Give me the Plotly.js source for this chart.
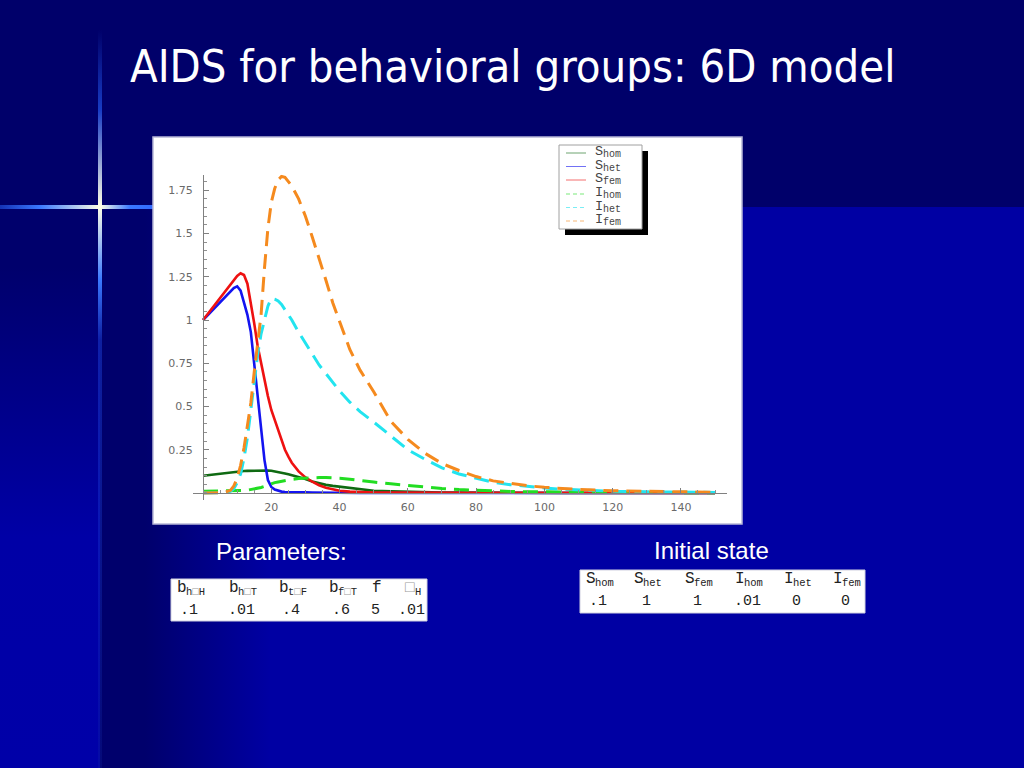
<!DOCTYPE html>
<html>
<head>
<meta charset="utf-8">
<script src="https://cdn.plot.ly/plotly-3.0.1.min.js"></script>
<style>
html,body{margin:0;padding:0;width:1024px;height:768px;overflow:hidden;background:#0000a3;}
#bg{position:absolute;left:0;top:0;width:1024px;height:768px;}
.blk{position:absolute;}
#plot{position:absolute;left:0;top:0;width:1024px;height:768px;}
</style>
</head>
<body>
<div id="bg">
  <div class="blk" style="left:100px;top:207px;width:924px;height:561px;background:linear-gradient(to right,#00006c 0px,#00006c 45px,#0000a3 170px,#0000a3 100%);"></div>
  <div class="blk" style="left:0;top:207px;width:100px;height:561px;background:linear-gradient(to bottom,#00006c 0px,#00006c 60px,#0000a6 330px,#0000a8 100%);"></div>
  <div class="blk" style="left:0;top:0;width:1024px;height:207px;background:#00006a;"></div>
  <div class="blk" style="left:0;top:205px;width:160px;height:4px;background:linear-gradient(to right,rgba(40,100,255,0.5) 0px,#3a78ff 40px,#ffffe6 100px,#3a78ff 130px,#2f66ff 160px);"></div>
  <div class="blk" style="left:98px;top:0;width:4px;height:768px;background:linear-gradient(to bottom,rgba(40,90,255,0) 30px,rgba(40,100,255,0.6) 110px,#ffffe6 207px,#3a78ff 280px,rgba(40,90,255,0.35) 340px,rgba(20,40,160,0.25) 100%);"></div>
</div>
<div id="plot"></div>
<script>
// ---- data ----
var t      = [0,2,4,6,8,9,10,11,12,13,14,15,16,17,18,19,20,21,22,23,24,25,26,28,30,32,34,36,38,40,43,46,50,55,60,65,70,75,80,85,90,95,100,105,110,120,130,140,150];
var S_hom  = [0.1,0.105,0.11,0.115,0.12,0.122,0.124,0.126,0.127,0.128,0.129,0.13,0.13,0.13,0.13,0.13,0.129,0.126,0.122,0.118,0.113,0.108,0.103,0.093,0.081,0.066,0.055,0.047,0.041,0.036,0.028,0.02,0.013,0.009,0.006,0.004,0.003,0.002,0.001,0,0,0,0,0,0,0,0,0,0];
var S_het  = [1.0,1.04,1.085,1.125,1.165,1.185,1.195,1.17,1.10,1.03,0.93,0.74,0.53,0.36,0.19,0.075,0.035,0.02,0.012,0.008,0.006,0.005,0.005,0.005,0.004,0.003,0.002,0.001,0.001,0,0,0,0,0,0,0,0,0,0,0,0,0,0,0,0,0,0,0,0];
var S_fem  = [1.0,1.05,1.10,1.15,1.20,1.23,1.255,1.27,1.26,1.21,1.10,0.98,0.85,0.75,0.65,0.56,0.48,0.42,0.36,0.30,0.25,0.21,0.175,0.125,0.09,0.065,0.045,0.03,0.02,0.013,0.008,0.005,0.003,0.002,0.001,0.001,0.001,0.001,0.001,0.001,0.001,0.001,0.001,0.001,0.001,0.001,0.001,0,0];
var I_hom  = [0.01,0.01,0.01,0.01,0.011,0.011,0.012,0.013,0.014,0.016,0.019,0.022,0.027,0.032,0.038,0.046,0.055,0.06,0.064,0.068,0.072,0.076,0.079,0.083,0.086,0.088,0.089,0.089,0.088,0.085,0.08,0.072,0.063,0.053,0.043,0.034,0.026,0.02,0.015,0.012,0.009,0.007,0.006,0.005,0.004,0.003,0.002,0.002,0.001];
var I_het  = [0,0,0,0.002,0.01,0.025,0.06,0.11,0.2,0.32,0.48,0.65,0.8,0.92,1.0,1.08,1.125,1.12,1.11,1.09,1.06,1.03,1.0,0.93,0.865,0.8,0.74,0.69,0.64,0.59,0.525,0.47,0.41,0.33,0.25,0.195,0.145,0.11,0.085,0.062,0.048,0.037,0.029,0.022,0.017,0.01,0.007,0.005,0.003];
var I_fem  = [0,0,0,0.002,0.015,0.04,0.085,0.16,0.26,0.4,0.52,0.7,0.88,1.03,1.3,1.53,1.68,1.76,1.81,1.83,1.825,1.8,1.775,1.7,1.6,1.48,1.36,1.23,1.1,0.99,0.83,0.71,0.585,0.415,0.31,0.23,0.17,0.13,0.095,0.07,0.055,0.042,0.033,0.025,0.02,0.013,0.009,0.006,0.004];

// series labels: main letter + subscript
var seriesMain = ["S","S","S","I","I","I"];
var seriesSub  = ["hom","het","fem","hom","het","fem"];
var xTickVals = [20,40,60,80,100,120,140];
var xTickText = ["20","40","60","80","100","120","140"];
var yTickVals = [0.25,0.5,0.75,1,1.25,1.5,1.75];
var yTickText = ["0.25","0.5","0.75","1","1.25","1.5","1.75"];

var titleText = "AIDS for behavioral groups: 6D model";
var paramLabel = "Parameters:";
var stateLabel = "Initial state";
var paramMain   = ["b","b","b","b","f","□"];
var paramSub    = ["h□H","h□T","t□F","f□T","","H"];
var paramValues = [".1",".01",".4",".6","5",".01"];
var stateMain   = ["S","S","S","I","I","I"];
var stateSub    = ["hom","het","fem","hom","het","fem"];
var stateValues = [".1","1","1",".01","0","0"];

// ---- styling ----
var seriesY = [S_hom,S_het,S_fem,I_hom,I_het,I_fem];
var colors  = ["#0f6a12","#1414f0","#ee1111","#22dd22","#22e4ef","#f58a1e"];
var dashes  = ["solid","solid","solid","15px,8px","15px,8px","15px,8px"];
var widths  = [2.6,2.6,2.6,3,3,3];

function fx(px){return px/1024;}
function fy(py){return 1-py/768;}
function tofu(s){return s.replace(/□/g,'<span style="color:#9a9a9a">□</span>');}

var traces = seriesY.map(function(y,i){
  return {x:t,y:y,type:'scatter',mode:'lines',name:seriesMain[i]+seriesSub[i],
    line:{color:colors[i],width:widths[i],dash:dashes[i]},showlegend:false,hoverinfo:'skip'};
});

var shapes = [];
var ann = [];
var MONO = 'Liberation Mono, Courier New, monospace';
function label(px,py,main,sub,mainSize,subSize,subDy,centered,color){
  var w = main.length*0.6*mainSize + sub.length*0.6*subSize;
  var left = centered ? px - w/2 : px;
  ann.push({xref:'paper',yref:'paper',x:fx(left),y:fy(py),xanchor:'left',yanchor:'middle',showarrow:false,
    text:tofu(main),font:{family:MONO,size:mainSize,color:color}});
  if (sub.length){
    ann.push({xref:'paper',yref:'paper',x:fx(left+main.length*0.6*mainSize),y:fy(py+subDy),xanchor:'left',yanchor:'middle',showarrow:false,
      text:tofu(sub),font:{family:MONO,size:subSize,color:color}});
  }
}
// chart white panel
shapes.push({type:'rect',xref:'paper',yref:'paper',x0:fx(153),x1:fx(742),y0:fy(524),y1:fy(137),
  fillcolor:'#ffffff',line:{color:'#b8b8d8',width:1.5},layer:'below'});
// legend shadow and box
shapes.push({type:'rect',xref:'paper',yref:'paper',x0:fx(565),x1:fx(648),y0:fy(235),y1:fy(151),
  fillcolor:'#000000',line:{width:0},layer:'above'});
shapes.push({type:'rect',xref:'paper',yref:'paper',x0:fx(559),x1:fx(642),y0:fy(229),y1:fy(145),
  fillcolor:'#ffffff',line:{color:'#a0a0a0',width:1},layer:'above'});
var rowY = [153,166.5,180,194,207.5,221];
for (var i=0;i<6;i++){
  shapes.push({type:'line',xref:'paper',yref:'paper',x0:fx(566),x1:fx(586),y0:fy(rowY[i]),y1:fy(rowY[i]),
    line:{color:colors[i],width:1,dash:i<3?'solid':'4px,3px'},opacity:0.6,layer:'above'});
  label(593,rowY[i]-1.5,seriesMain[i],seriesSub[i],13.5,10,3.5,false,'#444');
}
// tables
shapes.push({type:'rect',xref:'paper',yref:'paper',x0:fx(171),x1:fx(427),y0:fy(621),y1:fy(579),
  fillcolor:'#ffffff',line:{color:'#d0d0e0',width:1},layer:'above'});
shapes.push({type:'rect',xref:'paper',yref:'paper',x0:fx(580),x1:fx(865),y0:fy(613),y1:fy(570),
  fillcolor:'#ffffff',line:{color:'#d0d0e0',width:1},layer:'above'});
var pCols = [189,241,291,341,375,411];
var sCols = [598,646,697,747,796,845];
var valFont  = {family:MONO,size:15,color:'#222'};
for (var j=0;j<6;j++){
  label(pCols[j],588,paramMain[j],paramSub[j],16,10.5,4,true,'#222');
  ann.push({xref:'paper',yref:'paper',x:fx(pCols[j]),y:fy(610),xanchor:'center',yanchor:'middle',showarrow:false,text:paramValues[j],font:valFont});
  label(sCols[j],579,stateMain[j],stateSub[j],16,10.5,4,true,'#222');
  ann.push({xref:'paper',yref:'paper',x:fx(sCols[j]),y:fy(601),xanchor:'center',yanchor:'middle',showarrow:false,text:stateValues[j],font:valFont});
}
// labels
ann.push({xref:'paper',yref:'paper',x:fx(281),y:fy(551),xanchor:'center',yanchor:'middle',showarrow:false,text:paramLabel,
  font:{family:'Liberation Sans, Arial, sans-serif',size:24,color:'#ffffff'}});
ann.push({xref:'paper',yref:'paper',x:fx(711),y:fy(550),xanchor:'center',yanchor:'middle',showarrow:false,text:stateLabel,
  font:{family:'Liberation Sans, Arial, sans-serif',size:24,color:'#ffffff'}});

var layout = {
  width:1024,height:768,
  margin:{l:0,r:0,t:0,b:0},
  paper_bgcolor:'rgba(0,0,0,0)',plot_bgcolor:'rgba(0,0,0,0)',
  showlegend:false,
  title:{text:titleText,x:fx(130),xanchor:'left',y:fy(66),yanchor:'middle',xref:'paper',yref:'paper',
    font:{family:'DejaVu Sans Condensed, DejaVu Sans, sans-serif',size:45,color:'#ffffff'}},
  xaxis:{range:[-3,153.5],domain:[fx(192.8),fx(727)],anchor:'free',position:fy(493),
    showgrid:false,zeroline:false,showline:true,linecolor:'#808080',linewidth:1,
    tickmode:'array',tickvals:xTickVals,ticktext:xTickText,ticks:'inside',ticklen:5,tickcolor:'#808080',tickwidth:1,
    minor:{tickmode:'linear',tick0:0,dtick:5,ticklen:3,tickcolor:'#909090',ticks:'inside',showgrid:false},
    tickfont:{family:'DejaVu Sans, Verdana, sans-serif',size:11,color:'#6a6a6a'},ticklabelstandoff:4,fixedrange:true},
  yaxis:{range:[-0.04,1.84],domain:[fy(499.9),fy(174.7)],anchor:'free',position:fx(203),
    showgrid:false,zeroline:false,showline:true,linecolor:'#808080',linewidth:1,
    tickmode:'array',tickvals:yTickVals,ticktext:yTickText,ticks:'inside',ticklen:5,tickcolor:'#808080',tickwidth:1,
    minor:{tickmode:'linear',tick0:0,dtick:0.05,ticklen:3,tickcolor:'#909090',ticks:'inside',showgrid:false},
    tickfont:{family:'DejaVu Sans, Verdana, sans-serif',size:11,color:'#6a6a6a'},ticklabelstandoff:8,fixedrange:true},
  shapes:shapes,
  annotations:ann
};
Plotly.newPlot('plot',traces,layout,{displayModeBar:false});
</script>
</body>
</html>
